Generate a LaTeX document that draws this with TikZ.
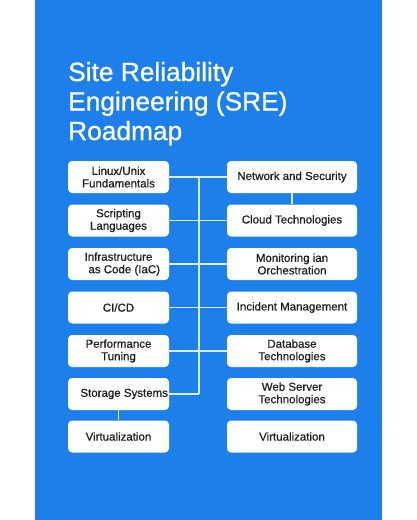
\documentclass[tikz,border=0pt]{standalone}
\usepackage{fontspec}
\setmainfont{Liberation Sans}
\newfontfamily\titlefont{Liberation Sans}[FakeBold=0.9]
\newfontfamily\boxfont{Liberation Sans}[FakeBold=0.5]
\definecolor{bgblue}{HTML}{1D80EA}
\definecolor{linec}{HTML}{D6F0FF}
\definecolor{txt}{HTML}{1E1E1E}
\begin{document}
\begin{tikzpicture}[x=1pt,y=-1pt,
  box/.style={draw=none,fill=white,rounded corners=4pt,minimum height=32pt,
    align=center,text=txt,font=\boxfont\fontsize{11.5}{12.5}\selectfont,inner sep=1pt},
  lbox/.style={box,minimum width=101pt},
  rbox/.style={box,minimum width=130pt},
  conn/.style={draw=linec,line width=1.4pt}]
\useasboundingbox (0,0) rectangle (417,520);
\fill[white] (0,0) rectangle (417,520);
\fill[bgblue] (35,0) rectangle (382,520);
\node[anchor=base west,text=white,font=\titlefont\fontsize{26.3}{29.5}\selectfont,align=left,inner sep=0pt] (title) at (68,140)
  {Site Reliability\\Engineering (SRE)\\Roadmap};
\coordinate (vtop) at (199,177);
\coordinate (vbot) at (199,394);
\node[lbox] (L1) at (118.5,177) {Linux/Unix\\Fundamentals};
\node[lbox] (L2) at (118.5,220.5) {Scripting\\Languages};
\node[lbox] (L3) at (118.5,264) {Infrastructure\\\hspace*{1em}as Code (IaC)};
\node[lbox] (L4) at (118.5,307.5) {CI/CD};
\node[lbox] (L5) at (118.5,351) {Performance\\Tuning};
\node[lbox] (L6) at (118.5,394) {\makebox[99pt][r]{Storage Systems}};
\node[lbox] (L7) at (118.5,436.5) {Virtualization};
\node[rbox] (R1) at (292,177) {Network and Security};
\node[rbox] (R2) at (292,220.5) {Cloud Technologies};
\node[rbox] (R3) at (292,264) {Monitoring ian\\Orchestration};
\node[rbox] (R4) at (292,307.5) {Incident Management};
\node[rbox] (R5) at (292,351) {Database\\Technologies};
\node[rbox] (R6) at (292,394) {Web Server\\Technologies};
\node[rbox] (R7) at (292,436.5) {Virtualization};
\draw[conn] (vtop) -- (vbot);
\draw[conn] (L1) -- (R1);
\draw[conn] (L2) -- (R2);
\draw[conn] (L3) -- (R3);
\draw[conn] (L4) -- (R4);
\draw[conn] (L5) -- (R5);
\draw[conn] (L6) -- (vbot);
\draw[conn] (R1) -- (R2);
\draw[conn] (L6) -- (L7);
\end{tikzpicture}
\end{document}
